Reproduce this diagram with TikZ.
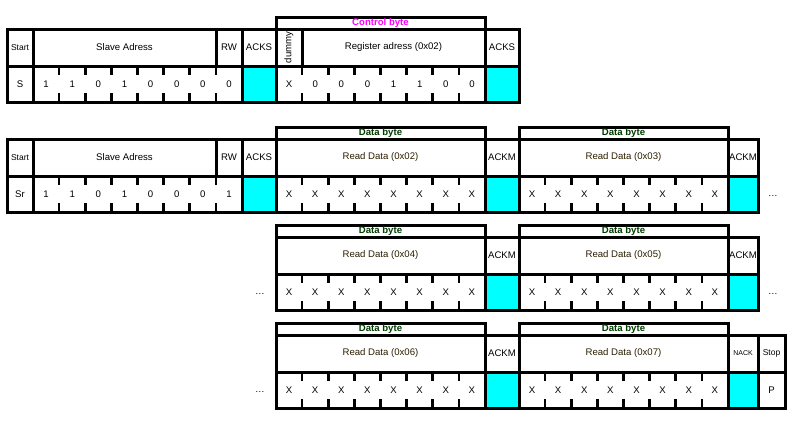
\documentclass[tikz,border=0pt]{standalone}
\usepackage{fontspec}
\setmainfont{Liberation Sans}
\usetikzlibrary{positioning}
\definecolor{AckCyan}{RGB}{0,255,255}
\definecolor{CtrlMagenta}{RGB}{255,0,255}
\definecolor{DataGreen}{RGB}{0,60,0}
\definecolor{ReadBrown}{RGB}{42,30,0}
\tikzstyle{Grid}=[draw=black, line width=3pt]
\tikzstyle{Tick}=[draw=black, line width=2.6pt]
\tikzstyle{AckFill}=[fill=AckCyan]
\tikzstyle{Txt}=[inner sep=0pt, font=\fontsize{9.6}{11}\selectfont]
\tikzstyle{SmallTxt}=[inner sep=0pt, font=\fontsize{8.5}{10}\selectfont]
\tikzstyle{TinyTxt}=[inner sep=0pt, font=\fontsize{7}{8}\selectfont]
\tikzstyle{ReadTxt}=[Txt, text=ReadBrown]
\tikzstyle{BarTxt}=[inner sep=0pt, font=\fontsize{9.6}{11}\selectfont\bfseries, text=DataGreen]
\newcommand{\bitcells}[4]{%
  \foreach \v [count=\i] in {#4}
    \node[Txt] (#3\i) at ({#1+(\i-0.5)*26.125},{#2+18}) {\v};
  \foreach \i in {1,...,7} {
    \draw[Tick] ({#1+\i*26.125},#2) -- ++(0,9);
    \draw[Tick] ({#1+\i*26.125},{#2+36}) -- ++(0,-9);
  }
}
\newcommand{\databar}[3]{%
  \draw[Grid] (#1,{#2-12}) rectangle ({#1+209},#2);
  \node[BarTxt] (#3) at ({#1+104.5},{#2-6}) {Data byte};
}

\begin{document}
\begin{tikzpicture}[x=1pt, y=-1pt]
  \useasboundingbox (0,0) rectangle (796,424);
  % write: address + control byte
  \fill[AckFill] (242,66) rectangle (276,102) (485,66) rectangle (519,102);
  \draw[Grid] (276,17) rectangle (485,29);
  \node[BarTxt, text=CtrlMagenta] (ctrl) at (380.5,23) {Control byte};
  \draw[Grid] (7,29) rectangle (519,102) (7,66) -- (519,66);
  \foreach \xx in {33,242,276,485} \draw[Grid] (\xx,29) -- (\xx,102);
  \draw[Grid] (216,29) -- (216,66) (302,29) -- (302,66);
  \node[SmallTxt] (start1) at (20,47.5) {Start};
  \node[Txt] (slave1) at (124.5,47.5) {Slave Adress};
  \node[Txt] (rw1) at (229,47.5) {RW};
  \node[Txt] (acks1) at (259,47.5) {ACKS};
  \node[Txt, rotate=90] (dummy) at (289,47.5) {dummy};
  \node[Txt] (reg) at (393.5,47.5) {Register adress (0x02)};
  \node[Txt] (acks2) at (502,47.5) {ACKS};
  \node[Txt] (s) at (20,84) {S};
  \bitcells{33}{66}{wa}{1,1,0,1,0,0,0,0}
  \bitcells{276}{66}{wr}{X,0,0,0,1,1,0,0}
  % read: repeated start + data bytes
  \fill[AckFill] (242,176) rectangle (276,212) (485,176) rectangle (519,212) (728,176) rectangle (758,212);
  \databar{276}{139}{db2}
  \databar{519}{139}{db3}
  \draw[Grid] (7,139) rectangle (758,212) (7,176) -- (758,176);
  \foreach \xx in {33,242,276,485,519,728} \draw[Grid] (\xx,139) -- (\xx,212);
  \draw[Grid] (216,139) -- (216,176);
  \node[SmallTxt] (start2) at (20,157.5) {Start};
  \node[Txt] (slave2) at (124.5,157.5) {Slave Adress};
  \node[Txt] (rw2) at (229,157.5) {RW};
  \node[Txt] (acks3) at (259,157.5) {ACKS};
  \node[ReadTxt] (rd2) at (380.5,157.5) {Read Data (0x02)};
  \node[Txt] (ackm2) at (502,157.5) {ACKM};
  \node[ReadTxt] (rd3) at (623.5,157.5) {Read Data (0x03)};
  \node[Txt] (ackm3) at (743,157.5) {ACKM};
  \node[Txt] (sr) at (20,194) {Sr};
  \bitcells{33}{176}{ra}{1,1,0,1,0,0,0,1}
  \bitcells{276}{176}{rb}{X,X,X,X,X,X,X,X}
  \bitcells{519}{176}{rc}{X,X,X,X,X,X,X,X}
  \node[Txt] (more2) at (773,196) {\dots};
  % data bytes 0x04, 0x05
  \fill[AckFill] (485,274) rectangle (519,310) (728,274) rectangle (758,310);
  \databar{276}{237}{db4}
  \databar{519}{237}{db5}
  \draw[Grid] (276,237) rectangle (758,310) (276,274) -- (758,274);
  \foreach \xx in {485,519,728} \draw[Grid] (\xx,237) -- (\xx,310);
  \node[ReadTxt] (rd4) at (380.5,255.5) {Read Data (0x04)};
  \node[Txt] (ackm4) at (502,255.5) {ACKM};
  \node[ReadTxt] (rd5) at (623.5,255.5) {Read Data (0x05)};
  \node[Txt] (ackm5) at (743,255.5) {ACKM};
  \bitcells{276}{274}{rd}{X,X,X,X,X,X,X,X}
  \bitcells{519}{274}{re}{X,X,X,X,X,X,X,X}
  \node[Txt] (back3) at (260,294) {\dots};
  \node[Txt] (more3) at (773,294) {\dots};
  % data bytes 0x06, 0x07 + stop
  \fill[AckFill] (485,372) rectangle (519,408) (728,372) rectangle (758,408);
  \databar{276}{335}{db6}
  \databar{519}{335}{db7}
  \draw[Grid] (276,335) rectangle (785,408) (276,372) -- (785,372);
  \foreach \xx in {485,519,728,758} \draw[Grid] (\xx,335) -- (\xx,408);
  \node[ReadTxt] (rd6) at (380.5,353.5) {Read Data (0x06)};
  \node[Txt] (ackm6) at (502,353.5) {ACKM};
  \node[ReadTxt] (rd7) at (623.5,353.5) {Read Data (0x07)};
  \node[TinyTxt] (nack) at (743,353.5) {NACK};
  \node[SmallTxt] (stop) at (771.5,353.5) {Stop};
  \bitcells{276}{372}{rf}{X,X,X,X,X,X,X,X}
  \bitcells{519}{372}{rg}{X,X,X,X,X,X,X,X}
  \node[Txt] (p) at (771.5,390) {P};
  \node[Txt] (back4) at (260,392) {\dots};
\end{tikzpicture}
\end{document}
